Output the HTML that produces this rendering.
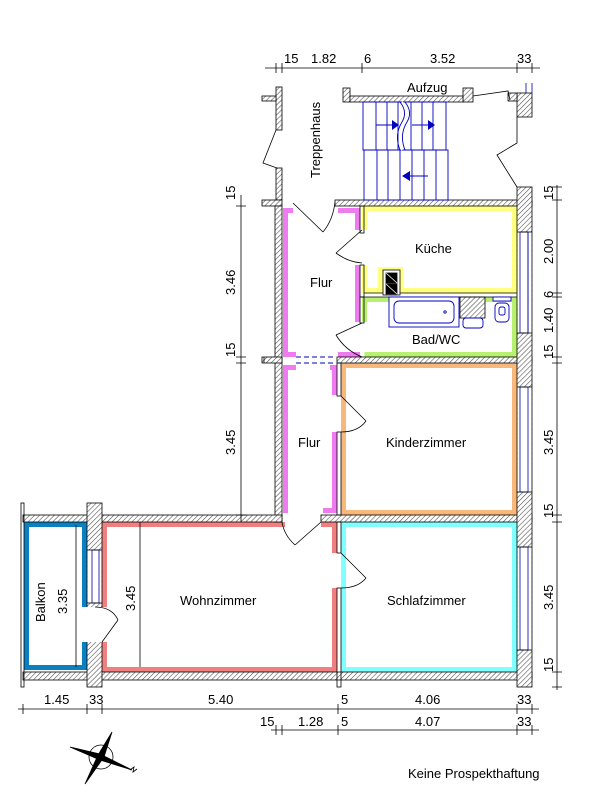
<!DOCTYPE html>
<html><head><meta charset="utf-8"><style>
html,body{margin:0;padding:0;background:#fff}
svg{display:block}
text{font-family:"Liberation Sans Narrow","Liberation Sans",sans-serif;font-size:13px;fill:#000}
</style></head><body>
<svg width="610" height="802" viewBox="0 0 610 802" xmlns="http://www.w3.org/2000/svg">
<defs>
<pattern id="h" width="3.5" height="3.5" patternUnits="userSpaceOnUse" patternTransform="rotate(45)">
<rect width="3.5" height="3.5" fill="#fff"/><line x1="0" y1="0" x2="0" y2="3.5" stroke="#555" stroke-width="1.2"/>
</pattern>
</defs>
<rect width="610" height="802" fill="#fff"/>

<!-- colored room borders -->
<g fill="none" stroke-width="5">
<path d="M364.5,230 V208.5 H514.5 V290.5 H400.5 V269.5 H380.5 V290.5 H364.5 V265" stroke="#ffff80"/>
<path d="M364.5,322 V299.5 H514.5 V354.5 H364.5" stroke="#b8f070"/>
<rect x="343.5" y="365.5" width="171" height="147" stroke="#f8b87c"/>
<rect x="343.5" y="524.5" width="171" height="145" stroke="#80ffff"/>
<path d="M285,524.5 H104.5 V607 M104.5,642 V669.5 H334.5 V588 M334.5,553 V524.5 H321" stroke="#f08080"/>
<path d="M84.5,607 V524.5 H26.5 V667.5 H84.5 V642" stroke="#0a80c0"/>
<g stroke="#f07af0">
<path d="M293,210.5 H285.5 V357"/>
<path d="M338,210.5 H357.5 V230 M357.5,265 V322"/>
<path d="M285,354.5 H296 M338,354.5 H360"/>
<path d="M296,367.5 H285.5 V513"/>
<path d="M330,367.5 H334.5 V395 M334.5,432 V510.5 H323"/>
</g>
</g>

<!-- walls -->
<g fill="url(#h)" stroke="#000" stroke-width="0.8">
<rect x="276" y="87" width="6" height="43"/>
<rect x="262" y="96" width="14" height="5"/>
<rect x="276" y="168" width="6" height="32"/>
<rect x="262" y="200" width="20" height="6"/>
<rect x="335" y="200" width="197" height="6"/>
<rect x="275" y="206" width="7" height="316"/>
<rect x="262" y="357" width="20" height="6"/>
<rect x="337" y="357" width="195" height="6"/>
<rect x="23" y="515" width="259" height="7"/>
<rect x="321" y="515" width="211" height="7"/>
<rect x="23" y="672" width="509" height="8"/>
<rect x="517" y="187" width="15" height="500"/>
<rect x="87" y="503" width="15" height="184"/>
<rect x="517" y="93" width="15" height="24"/>
<rect x="508" y="93" width="9" height="8"/>
<rect x="343" y="88" width="7" height="14"/>
<rect x="463" y="88" width="10" height="14"/>
<rect x="350" y="96" width="113" height="6"/>
<rect x="460" y="297" width="25" height="21"/>
</g>
<!-- openings / windows -->
<g fill="#fff" stroke="none">
<rect x="517.5" y="232" width="14" height="101"/>
<rect x="517.5" y="387" width="14" height="105"/>
<rect x="517.5" y="547" width="14" height="103"/>
<rect x="87.5" y="550" width="14" height="53"/>
<rect x="86" y="607" width="17" height="35"/>
<rect x="516" y="118" width="17" height="68" />
</g>
<g fill="none" stroke="#0000a0" stroke-width="0.8">
<rect x="520" y="232" width="8" height="101"/><line x1="528" y1="232" x2="528" y2="333"/>
<rect x="520" y="387" width="8" height="105"/>
<rect x="520" y="547" width="8" height="103"/>
<rect x="92" y="550" width="7" height="53"/>
<line x1="526" y1="83" x2="526" y2="93"/><line x1="532" y1="83" x2="532" y2="93"/>
</g>
<g stroke="#000" stroke-width="0.8" fill="none">
<line x1="517" y1="232" x2="532" y2="232"/><line x1="517" y1="333" x2="532" y2="333"/>
<line x1="517" y1="387" x2="532" y2="387"/><line x1="517" y1="492" x2="532" y2="492"/>
<line x1="517" y1="547" x2="532" y2="547"/><line x1="517" y1="650" x2="532" y2="650"/>
<line x1="87" y1="550" x2="102" y2="550"/><line x1="87" y1="603" x2="102" y2="603"/>
<rect x="360" y="206" width="4" height="27"/><rect x="360" y="265" width="4" height="32"/>
<rect x="360" y="297" width="4" height="26"/>
<rect x="337" y="363" width="4" height="33"/><rect x="337" y="432" width="4" height="83"/>
<rect x="337" y="522" width="4" height="31"/><rect x="337" y="588" width="4" height="99"/>
<line x1="364" y1="293" x2="517" y2="293"/><line x1="364" y1="297" x2="517" y2="297"/>
<rect x="21" y="503" width="3" height="184"/>
<line x1="76" y1="525" x2="76" y2="667"/>
<line x1="140" y1="522" x2="140" y2="667"/>
<polyline points="276,130 263,163 277,168"/>
<polyline points="473,96 508,91 510,100"/>
<polyline points="517,117 517,143 497,155 517,187"/>
<line x1="264" y1="357" x2="264" y2="363"/>
<line x1="293" y1="203" x2="323" y2="232"/><path d="M323,232 Q333,220 335,202"/>
<line x1="362" y1="230" x2="336" y2="253"/><path d="M336,253 Q348,262 362,263"/>
<line x1="362" y1="323" x2="336" y2="335"/><path d="M336,335 Q345,350 362,357"/>
<line x1="341" y1="396" x2="366" y2="421"/><path d="M366,421 Q358,432 341,432"/>
<line x1="321" y1="522" x2="295" y2="545"/><path d="M295,545 Q284,535 282,522"/>
<line x1="341" y1="553" x2="366" y2="578"/><path d="M366,578 Q358,588 341,588"/>
<line x1="102" y1="642" x2="118" y2="620"/><path d="M118,620 Q112,607 95,607"/>
<rect x="383" y="270" width="17" height="25" fill="#fff"/>
<rect x="386" y="273" width="11" height="10" fill="#000"/><rect x="386" y="284" width="11" height="10" fill="#000"/>
<line x1="386" y1="273" x2="397" y2="283" stroke="#fff"/><line x1="386" y1="284" x2="397" y2="294" stroke="#fff"/>
</g>
<g fill="#fff" stroke="#0000c0" stroke-width="0.9">
<rect x="389" y="297" width="70" height="30"/>
<rect x="394" y="301" width="60" height="22" rx="5"/>
<circle cx="445" cy="312" r="1.2"/>
<rect x="463" y="318" width="20" height="10" rx="3"/>
<rect x="493" y="297" width="18" height="4"/>
<rect x="495" y="303" width="14" height="19" rx="4"/>
<rect x="499" y="307" width="6" height="8" rx="2"/>
</g>
<g stroke="#0000c0" stroke-dasharray="5,3" stroke-width="0.9"><line x1="296" y1="357" x2="336" y2="357"/><line x1="296" y1="363" x2="336" y2="363"/></g>
<g stroke="#0000c0" stroke-width="0.9" fill="none">
<rect x="363" y="102" width="83" height="48"/>
<rect x="364" y="150" width="84" height="50"/>
<path d="M376,102V150M387,102V150M398,102V150M411,102V150M422,102V150M433,102V150"/>
<path d="M377,150V200M388,150V200M400,150V200M412,150V200M424,150V200M436,150V200"/>
<path d="M376,125H392M412,125H428M428,176H410"/>
<path d="M402,102 Q410,112 404,122 Q396,135 402,150" stroke-width="2" stroke="#fff"/>
<path d="M400,102 Q408,112 402,122 Q394,135 400,150 M405,102 Q413,112 407,122 Q399,135 405,150"/>
</g>
<g fill="#0000c0"><polygon points="392,120 399,125 392,130"/><polygon points="428,120 435,125 428,130"/><polygon points="410,171 402,176 410,181"/></g>

<g stroke="#000" stroke-width="0.8">
<line x1="265" y1="68" x2="540" y2="68"/>
<path d="M276,63V73M282,63V73M362,63V73M517,63V73M532,63V73"/>
<line x1="241" y1="195" x2="241" y2="522"/>
<path d="M236,206H246M236,357H246M236,363H246M236,515H246"/>
<line x1="557" y1="185" x2="557" y2="690"/>
<path d="M552,187H562M552,200H562M552,293H562M552,297H562M552,357H562M552,363H562M552,515H562M552,522H562M552,672H562M552,687H562"/>
<line x1="18" y1="709" x2="539" y2="709"/>
<path d="M23,704V714M87,704V714M102,704V714M338,704V714M517,704V714M532,704V714"/>
<line x1="271" y1="730" x2="539" y2="730"/>
<path d="M276,725V735M282,725V735M338,725V735M517,725V735M532,725V735"/>
</g>
<g>
<text x="284" y="63">15</text><text x="311" y="63">1.82</text><text x="364" y="63">6</text><text x="430" y="63">3.52</text><text x="517" y="63">33</text>
<text x="407" y="92" font-size="11">Aufzug</text>
<text transform="translate(320,178) rotate(-90)">Treppenhaus</text>
<text x="415" y="253">Küche</text>
<text x="412" y="344">Bad/WC</text>
<text x="310" y="287">Flur</text>
<text x="298" y="447">Flur</text>
<text x="386" y="447">Kinderzimmer</text>
<text x="180" y="605">Wohnzimmer</text>
<text x="387" y="605">Schlafzimmer</text>
<text transform="translate(45,622) rotate(-90)">Balkon</text>
<text transform="translate(67,614) rotate(-90)">3.35</text>
<text transform="translate(135,611) rotate(-90)">3.45</text>
<text transform="translate(235,200) rotate(-90)">15</text>
<text transform="translate(235,295) rotate(-90)">3.46</text>
<text transform="translate(235,357) rotate(-90)">15</text>
<text transform="translate(235,455) rotate(-90)">3.45</text>
<text transform="translate(553,200) rotate(-90)">15</text>
<text transform="translate(553,264) rotate(-90)">2.00</text>
<text transform="translate(553,298) rotate(-90)">6</text>
<text transform="translate(553,333) rotate(-90)">1.40</text>
<text transform="translate(553,359) rotate(-90)">15</text>
<text transform="translate(553,455) rotate(-90)">3.45</text>
<text transform="translate(553,518) rotate(-90)">15</text>
<text transform="translate(553,610) rotate(-90)">3.45</text>
<text transform="translate(553,672) rotate(-90)">15</text>
<text x="44" y="704">1.45</text><text x="89" y="704">33</text><text x="208" y="704">5.40</text><text x="341" y="704">5</text><text x="415" y="704">4.06</text><text x="517" y="704">33</text>
<text x="260" y="726">15</text><text x="298" y="726">1.28</text><text x="341" y="726">5</text><text x="415" y="726">4.07</text><text x="517" y="726">33</text>
<text x="408" y="778">Keine  Prospekthaftung</text>
</g>
<g stroke="#000" stroke-width="0.8">
<circle cx="101" cy="757" r="12" fill="none"/>
<polygon points="70,747 100,754 132,770 100,760" fill="#000"/>
<polygon points="112,732 104,757 85,784 98,755" fill="#000"/>
<path d="M130,770 l4,-3 l-1,5 l4,-3" fill="none"/>
</g>
</svg>
</body></html>
